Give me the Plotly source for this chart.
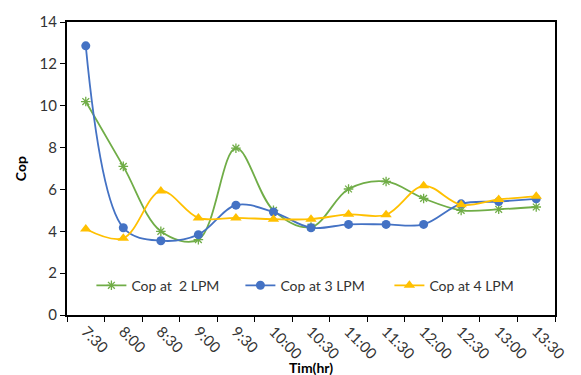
import plotly.graph_objects as go

# Time of day (categories on the x axis)
times = ["7:30", "8:00", "8:30", "9:00", "9:30", "10:00", "10:30",
         "11:00", "11:30", "12:00", "12:30", "13:00", "13:30"]

# Coefficient of performance at each flow rate
cop_2lpm = [10.2, 7.1, 4.0, 3.6, 7.97, 5.0, 4.2, 6.02, 6.38, 5.57, 5.0, 5.05, 5.16]
cop_3lpm = [12.86, 4.17, 3.55, 3.84, 5.25, 4.92, 4.17, 4.33, 4.33, 4.33, 5.31, 5.42, 5.55]
cop_4lpm = [4.11, 3.67, 5.92, 4.64, 4.64, 4.58, 4.58, 4.81, 4.79, 6.17, 5.27, 5.52, 5.67]

y_ticks = [0, 2, 4, 6, 8, 10, 12, 14]

FONT = "Lato"
TEXT = "#333333"

fig = go.Figure()

series = [
    ("Cop at  2 LPM", cop_2lpm, "#70AD47", dict(symbol="asterisk-open", size=8,
                                                 line=dict(width=1.3, color="#70AD47"))),
    ("Cop at 3 LPM", cop_3lpm, "#4472C4", dict(symbol="circle", size=9)),
    ("Cop at 4 LPM", cop_4lpm, "#FFC000", dict(symbol="triangle-up", size=10)),
]

for name, vals, color, marker in series:
    fig.add_trace(go.Scatter(
        x=times, y=vals, name=name, mode="lines+markers",
        line=dict(color=color, width=1.8, shape="spline", smoothing=1.0),
        marker=dict(color=color, **marker),
    ))

fig.update_layout(
    width=581, height=375,
    margin=dict(l=67, r=18, t=17, b=60),
    paper_bgcolor="white", plot_bgcolor="white",
    font=dict(family=FONT, size=14, color=TEXT),
    showlegend=True,
    legend=dict(
        orientation="h", x=0.05, y=0.1, xanchor="left", yanchor="middle",
        bgcolor="rgba(0,0,0,0)", font=dict(family=FONT, size=14, color=TEXT),
        entrywidth=104, entrywidthmode="pixels", itemwidth=30,
    ),
    xaxis=dict(
        type="category", range=[-0.5, 12.5], tickson="boundaries",
        ticks="outside", ticklen=5, tickcolor="black", tickwidth=1,
        tickangle=45, showline=True, linecolor="black", linewidth=2,
        mirror=True, showgrid=False, zeroline=False,
        tickfont=dict(family=FONT, size=15, color=TEXT),
    ),
    yaxis=dict(
        range=[0, 14], tickvals=y_ticks, ticks="outside", ticklen=5,
        tickcolor="black", tickwidth=1, showline=True, linecolor="black",
        linewidth=2, mirror=True, showgrid=False, zeroline=False,
        tickfont=dict(family=FONT, size=15, color=TEXT),
    ),
    annotations=[
        dict(text="<b>Cop</b>", xref="paper", yref="paper", x=-0.095, y=0.5,
             textangle=-90, showarrow=False, xanchor="center", yanchor="middle",
             font=dict(family=FONT, size=14, color="black")),
        dict(text="<b>Tim(hr)</b>", xref="paper", yref="paper", x=0.5, y=-0.178,
             showarrow=False, xanchor="center", yanchor="middle",
             font=dict(family=FONT, size=14, color="black")),
    ],
)

fig.write_html("out.html")
